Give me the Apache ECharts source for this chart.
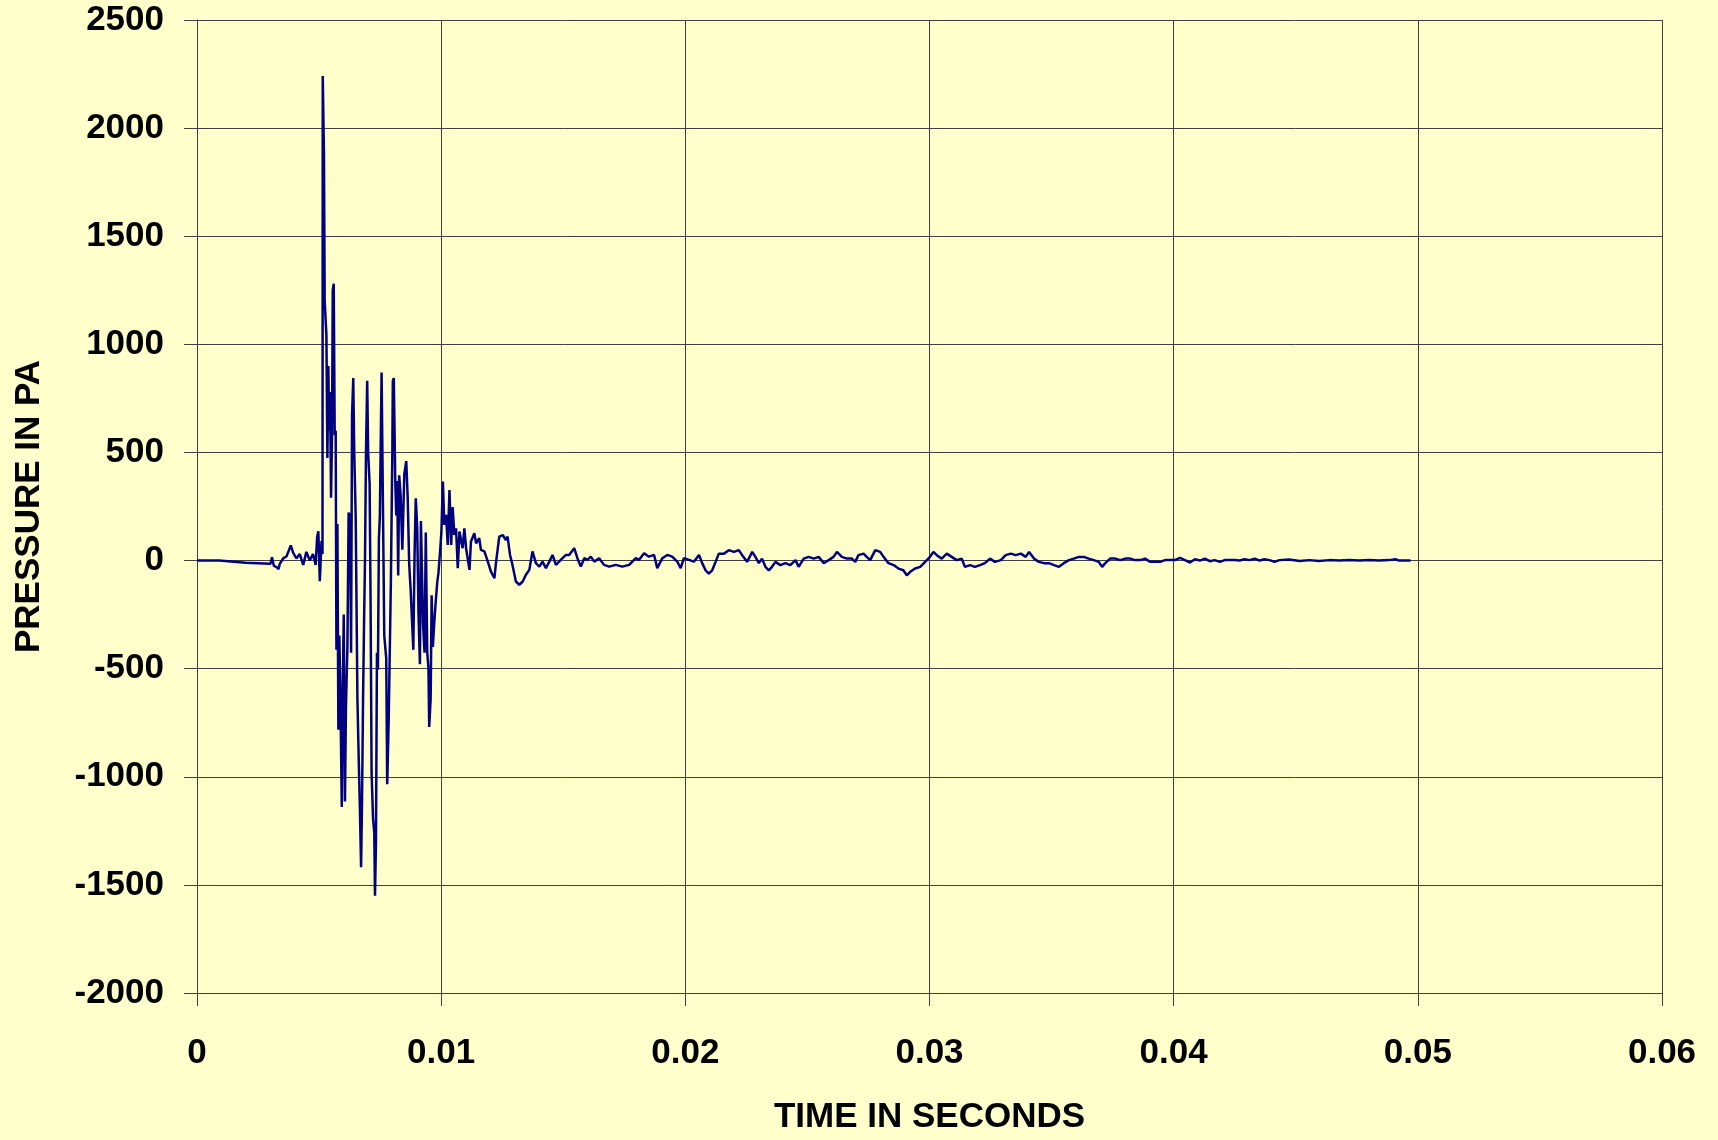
<!DOCTYPE html>
<html>
<head>
<meta charset="utf-8">
<script src="https://cdn.jsdelivr.net/npm/echarts@6/dist/echarts.min.js"></script>
<style>
html,body{margin:0;padding:0;background:#FFFFCC;}
#chart{width:1718px;height:1140px;}
</style>
</head>
<body>
<div id="chart"></div>
<script>
// Time in milliseconds (converted to seconds below), pressure in Pa
const timeMs = [
  0, 0.91, 0.94, 1.99, 2.03, 3.01, 3.07, 3.15, 3.26, 3.34, 3.39, 3.53, 3.67, 3.84, 3.94, 4.07, 4.21, 4.35, 4.48, 4.62, 4.75, 4.86, 4.92, 4.97, 5.03, 5.10, 5.14,
  5.15, 5.20, 5.23, 5.27, 5.30, 5.34, 5.38, 5.41, 5.45, 5.49, 5.53, 5.56, 5.60, 5.64, 5.68, 5.71, 5.75, 5.79, 5.83, 5.87, 5.93, 5.97,
  6.01, 6.06, 6.10, 6.16, 6.21, 6.27, 6.31, 6.35, 6.40, 6.44, 6.50, 6.57, 6.62, 6.67, 6.72, 6.76, 6.80, 6.84, 6.88, 6.92, 6.97,
  7.01, 7.07, 7.11, 7.15, 7.21, 7.26, 7.29, 7.33, 7.37, 7.41, 7.45, 7.49, 7.53, 7.56, 7.61, 7.67, 7.75, 7.79, 7.85, 7.90, 7.94,
  8.00, 8.02, 8.06, 8.12, 8.16, 8.20, 8.24, 8.28, 8.34, 8.41, 8.49, 8.57, 8.63, 8.69, 8.75, 8.80, 8.86, 8.91, 8.96,
  9.02, 9.07, 9.13, 9.17, 9.21, 9.26, 9.32, 9.37, 9.43, 9.48, 9.51, 9.57, 9.61, 9.66, 9.71, 9.77, 9.84, 9.89, 9.96,
  10.01, 10.07, 10.13, 10.20, 10.27, 10.34, 10.41, 10.47, 10.54, 10.61, 10.68, 10.75, 10.88, 10.95, 11.02, 11.16, 11.22, 11.36, 11.43, 11.56, 11.63, 11.77, 11.91,
  12.04, 12.18, 12.25, 12.38, 12.52, 12.65, 12.72, 12.82, 12.92, 13.06, 13.20, 13.34, 13.47, 13.61, 13.74, 13.88, 14.02, 14.15, 14.29, 14.43, 14.56, 14.70, 14.83, 14.97,
  15.11, 15.24, 15.45, 15.58, 15.72, 15.86, 15.99, 16.13, 16.27, 16.47, 16.67, 16.88, 17.15, 17.42, 17.70, 17.97, 18.10, 18.31, 18.51, 18.72, 18.85, 19.06, 19.26, 19.46, 19.67, 19.81, 19.94,
  20.15, 20.35, 20.56, 20.69, 20.83, 20.96, 21.10, 21.24, 21.37, 21.58, 21.78, 21.99, 22.19, 22.33, 22.53, 22.74, 22.87, 23.01, 23.14, 23.28, 23.42, 23.55, 23.69, 23.89,
  24.10, 24.30, 24.51, 24.64, 24.85, 25.05, 25.26, 25.46, 25.67, 25.87, 26.07, 26.21, 26.41, 26.62, 26.82, 26.96, 27.09, 27.30, 27.43, 27.57, 27.78, 27.98,
  28.12, 28.32, 28.53, 28.73, 28.93, 29.07, 29.21, 29.41, 29.62, 29.82, 30.02, 30.16, 30.30, 30.50, 30.71, 30.91, 31.11, 31.32, 31.45, 31.66, 31.86, 32.07, 32.27, 32.48, 32.68,
  32.92, 33.12, 33.33, 33.53, 33.74, 33.94, 34.08, 34.28, 34.48, 34.69, 34.89, 35.10, 35.30, 35.50, 35.71, 35.91, 36.11, 36.32, 36.52, 36.73, 36.93, 37.07, 37.20, 37.40, 37.61, 37.81,
  38.02, 38.22, 38.42, 38.63, 38.83, 39.04, 39.24, 39.44, 39.65, 39.85, 40.05, 40.26, 40.46, 40.67, 40.87, 41.07, 41.28, 41.48, 41.68, 41.89, 42.09, 42.30, 42.50, 42.70, 42.91,
  43.11, 43.32, 43.52, 43.72, 43.93, 44.13, 44.33, 44.74, 45.15, 45.56, 45.96, 46.37, 46.78, 47.19, 47.60, 48.00, 48.41, 48.82, 49.09, 49.23, 49.70
];
const pressurePa = [
  0, 0, -8, -10, -15, -15, 15, -25, -30, -40, -15, 10, 20, 70, 35, 10, 30, -20, 40, 0, 30, -20, 110, 135, -95, 90, 30,
  2241, 1876, 1200, 1200, 1042, 474, 900, 600, 780, 290, 580, 1250, 1280, 580, 600, -413, 169, -783, -347, -600, -1140, -600,
  -250, -1114, -677, -400, 222, 200, -426, 672, 844, 500, 200, -638, -900, -1140, -1418, -1100, -651, -300, 0, 487, 831,
  500, 355, -200, -982, -1193, -1259, -1550, -1300, -426, -505, 100, 209, 600, 870, 315, -347, -452, -1035, -743, -743, -100,
  500, 830, 844, 368, 209, 368, -69, 394, 300, 50, 400, 460, 288, -16, -135, -130, -413, 24, 288,
  150, -241, -479, 183, 183, -300, -426, 130, -426, -500, -770, -638, -161, -400, -300, -201, -100, -56, 50,
  134, 365, 165, 211, 72, 326, 72, 247, 118, 149, -35, 134, 57, 149, 57, -43, 88, 126, 80, 103, 49, 42, -5,
  -51, -82, -5, 111, 118, 95, 111, 26, -20, -97, -112, -97, -66, -43, 42, -12, -28, -5, -35, -5, 26, -20, -5, 11,
  26, 26, 57, 11, -28, 11, 3, 18, -5, 11, -20, -28, -20, -28, -20, 11, 3, 34, 18, 26, -35, 11, 26, 18, -5, -35, 11,
  3, -5, 26, -12, -45, -60, -45, -6, 32, 32, 48, 40, 48, 25, -6, 40, 17, -12, 9, -29, -45, -29, -6, -21,
  -12, -21, 2, -29, 9, 17, 9, 17, -12, 2, 17, 40, 17, 9, 9, -6, 25, 32, 17, 2, 48, 40,
  17, -12, -21, -37, -45, -68, -52, -37, -29, -6, 17, 40, 25, 9, 32, 17, 2, 9, -29, -21, -29, -21, -12, 9, -6,
  2, 25, 32, 25, 32, 17, 40, 9, -6, -12, -12, -21, -29, -12, 2, 9, 17, 17, 9, 2, -6, -29, -12, 9, 9, 2,
  9, 9, 2, 2, 9, -6, -6, -6, 2, 2, 2, 12, 2, -9, 6, 0, 9, -3, 2, -6, 2, 2, 3, 0, 6,
  2, 9, 0, 6, 2, -6, 2, 5, -2, 2, -2, 2, 0, 2, 0, 2, 0, 2, 6, 0, 0
];
const xTickValues = [0, 0.01, 0.02, 0.03, 0.04, 0.05, 0.06];
const yTickValues = [-2000, -1500, -1000, -500, 0, 500, 1000, 1500, 2000, 2500];

const points = timeMs.map((t, i) => [t / 1000, pressurePa[i]]);

const chart = echarts.init(document.getElementById('chart'), null, {renderer: 'canvas'});
const font = '"Liberation Sans", Arial, sans-serif';
chart.setOption({
  backgroundColor: '#FFFFCC',
  animation: false,
  grid: {left: 197, right: 56, top: 20, bottom: 144},
  xAxis: {
    type: 'value',
    min: xTickValues[0], max: xTickValues[xTickValues.length - 1], interval: 0.01,
    name: 'TIME IN SECONDS', nameLocation: 'middle', nameGap: 107,
    nameTextStyle: {fontFamily: font, fontWeight: 'bold', fontSize: 35, color: '#000'},
    axisLine: {show: true, onZero: false, lineStyle: {color: '#404040', width: 1}},
    axisTick: {show: true, inside: false, length: 13, lineStyle: {color: '#404040'}},
    axisLabel: {margin: 43, fontFamily: font, fontWeight: 'bold', fontSize: 35, color: '#000',
      formatter: v => String(+v.toFixed(2))},
    splitLine: {show: true, lineStyle: {color: '#404040', width: 1}}
  },
  yAxis: {
    type: 'value',
    min: yTickValues[0], max: yTickValues[yTickValues.length - 1], interval: 500,
    name: 'PRESSURE IN PA', nameLocation: 'middle', nameGap: 150,
    nameTextStyle: {fontFamily: font, fontWeight: 'bold', fontSize: 35, color: '#000'},
    axisLine: {show: true, onZero: false, lineStyle: {color: '#404040', width: 1}},
    axisTick: {show: true, inside: false, length: 13, lineStyle: {color: '#404040'}},
    axisLabel: {margin: 33, fontFamily: font, fontWeight: 'bold', fontSize: 35, color: '#000',
      formatter: v => String(v)},
    splitLine: {show: true, lineStyle: {color: '#404040', width: 1}}
  },
  series: [{
    type: 'line',
    data: points,
    showSymbol: false,
    symbol: 'none',
    sampling: 'none',
    lineStyle: {color: '#000080', width: 2.5},
    itemStyle: {color: '#000080'}
  }]
});
</script>
</body>
</html>
